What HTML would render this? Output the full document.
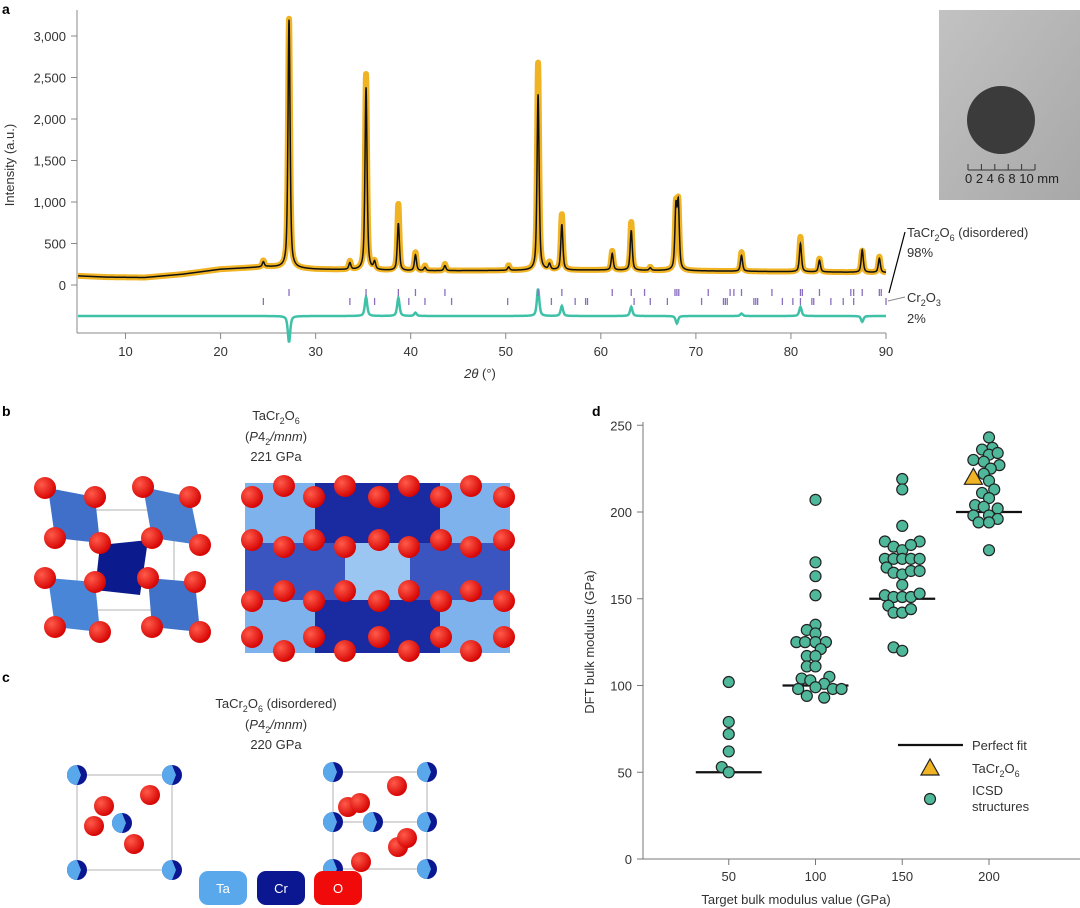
<!DOCTYPE html>
<html><head><meta charset="utf-8"><style>
html,body{margin:0;padding:0;background:#fff;}
svg{display:block;font-family:"Liberation Sans",sans-serif;}
</style></head><body>
<svg id="fig" width="1080" height="908" viewBox="0 0 1080 908" xmlns="http://www.w3.org/2000/svg">
<defs>
<linearGradient id="insetg" x1="0" y1="0" x2="1" y2="1"><stop offset="0" stop-color="#c2c2c2"/><stop offset="1" stop-color="#a8a8a8"/></linearGradient>
<radialGradient id="og" cx="0.35" cy="0.35" r="0.7"><stop offset="0" stop-color="#ff5a4a"/><stop offset="1" stop-color="#d40000"/></radialGradient>
</defs>
<!-- Panel a -->
<g id="panelA">
<text x="2" y="14" font-size="14" font-weight="bold">a</text>
<text transform="translate(14,165) rotate(-90)" font-size="13" text-anchor="middle" fill="#333">Intensity (a.u.)</text>
<text x="480" y="378" font-size="13" text-anchor="middle" fill="#333"><tspan font-style="italic">2θ</tspan> (°)</text>
<g id="aAxes"></g>
<g id="aSeries"></g>
<line x1="905" y1="232" x2="889" y2="293" stroke="#000" stroke-width="1.2"/>
<text x="907" y="237" font-size="13" fill="#333">TaCr<tspan font-size="9" dy="4">2</tspan><tspan dy="-4">O</tspan><tspan font-size="9" dy="4">6</tspan><tspan dy="-4"> (disordered)</tspan></text>
<text x="907" y="257" font-size="13" fill="#333">98%</text>
<line x1="888" y1="301" x2="905" y2="297" stroke="#888" stroke-width="1"/>
<text x="907" y="302" font-size="13" fill="#333">Cr<tspan font-size="9" dy="4">2</tspan><tspan dy="-4">O</tspan><tspan font-size="9" dy="4">3</tspan></text>
<text x="907" y="323" font-size="13" fill="#333">2%</text>
<g>
<rect x="939" y="10" width="141" height="190" fill="url(#insetg)"/>
<circle cx="1001" cy="120" r="34" fill="#3b3b3b"/>
<line x1="968" y1="170" x2="1035" y2="170" stroke="#333" stroke-width="1"/>
<g stroke="#333" stroke-width="1"><line x1="968" y1="164" x2="968" y2="170"/><line x1="981.4" y1="164" x2="981.4" y2="170"/><line x1="994.8" y1="164" x2="994.8" y2="170"/><line x1="1008.2" y1="164" x2="1008.2" y2="170"/><line x1="1021.6" y1="164" x2="1021.6" y2="170"/><line x1="1035" y1="164" x2="1035" y2="170"/></g>
<text x="965" y="183" font-size="13" fill="#222">0 2 4 6 8 10 mm</text>
</g>
</g>

<!-- Panel b -->
<g>
<text x="2" y="416" font-size="14" font-weight="bold">b</text>
<text x="276" y="420" font-size="13" text-anchor="middle" fill="#333">TaCr<tspan font-size="9" dy="4">2</tspan><tspan dy="-4">O</tspan><tspan font-size="9" dy="4">6</tspan></text>
<text x="276" y="441" font-size="13" text-anchor="middle" fill="#333">(<tspan font-style="italic">P</tspan>4<tspan font-size="9" dy="4">2</tspan><tspan dy="-4" font-style="italic">/mnm</tspan>)</text>
<text x="276" y="461" font-size="13" text-anchor="middle" fill="#333">221 GPa</text>
<g id="bLeft">
<rect x="77" y="510" width="97" height="100" fill="none" stroke="#ccc" stroke-width="1.5"/>
<polygon points="48,488 95,497 100,543 55,538" fill="#3f6fc8"/>
<polygon points="143,487 190,497 200,545 152,538" fill="#4a7fd0"/>
<polygon points="48,578 95,582 100,632 55,627" fill="#4a86d8"/>
<polygon points="148,578 195,582 200,632 152,627" fill="#3f72c8"/>
<polygon points="100,545 148,540 140,595 95,590" fill="#0b1a8c"/>
</g>
<g id="bRight">
<rect x="245" y="483" width="265" height="170" fill="#3a55c0"/>
<rect x="245" y="483" width="70" height="60" fill="#7db2ec"/>
<rect x="245" y="600" width="70" height="53" fill="#7db2ec"/>
<rect x="440" y="483" width="70" height="60" fill="#7db2ec"/>
<rect x="440" y="600" width="70" height="53" fill="#7db2ec"/>
<rect x="345" y="543" width="65" height="57" fill="#9cc6f2"/>
<rect x="315" y="483" width="125" height="60" fill="#1a2aa0"/>
<rect x="315" y="600" width="125" height="53" fill="#1a2aa0"/>
</g>
<g id="bAtoms"></g>
</g>

<!-- Panel c -->
<g>
<text x="2" y="682" font-size="14" font-weight="bold">c</text>
<text x="276" y="708" font-size="13" text-anchor="middle" fill="#333">TaCr<tspan font-size="9" dy="4">2</tspan><tspan dy="-4">O</tspan><tspan font-size="9" dy="4">6</tspan><tspan dy="-4"> (disordered)</tspan></text>
<text x="276" y="729" font-size="13" text-anchor="middle" fill="#333">(<tspan font-style="italic">P</tspan>4<tspan font-size="9" dy="4">2</tspan><tspan dy="-4" font-style="italic">/mnm</tspan>)</text>
<text x="276" y="749" font-size="13" text-anchor="middle" fill="#333">220 GPa</text>
<rect x="77" y="775" width="95" height="95" fill="none" stroke="#ccc" stroke-width="1.5"/>
<rect x="333" y="772" width="94" height="97" fill="none" stroke="#ccc" stroke-width="1.5"/>
<line x1="333" y1="822" x2="427" y2="822" stroke="#ccc" stroke-width="1.5"/>
<g id="cAtoms"></g>
<g>
<rect x="199" y="871" width="48" height="34" rx="9" fill="#5aa8ec"/>
<text x="223" y="893" font-size="13" fill="#fff" text-anchor="middle">Ta</text>
<rect x="257" y="871" width="48" height="34" rx="9" fill="#0a1790"/>
<text x="281" y="893" font-size="13" fill="#fff" text-anchor="middle">Cr</text>
<rect x="314" y="871" width="48" height="34" rx="9" fill="#f00a0a"/>
<text x="338" y="893" font-size="13" fill="#fff" text-anchor="middle">O</text>
</g>
</g>

<!-- Panel d -->
<g id="panelD">
<text x="592" y="416" font-size="14" font-weight="bold">d</text>
<text transform="translate(594,642) rotate(-90)" font-size="13" text-anchor="middle" fill="#333">DFT bulk modulus (GPa)</text>
<text x="796" y="904" font-size="13" text-anchor="middle" fill="#333">Target bulk modulus value (GPa)</text>
<g id="dAxes"></g>
<g id="dMarks"></g>
<g>
<line x1="898" y1="745" x2="963" y2="745" stroke="#111" stroke-width="2.2"/>
<text x="972" y="750" font-size="13" fill="#333">Perfect fit</text>
<polygon points="930,759 939,775 921,775" fill="#f0b323" stroke="#222" stroke-width="1.2"/>
<text x="972" y="773" font-size="13" fill="#333">TaCr<tspan font-size="9" dy="4">2</tspan><tspan dy="-4">O</tspan><tspan font-size="9" dy="4">6</tspan></text>
<circle cx="930" cy="799" r="5.5" fill="#4fb89a" stroke="#222" stroke-width="1.2"/>
<text x="972" y="795" font-size="13" fill="#333">ICSD</text>
<text x="972" y="811" font-size="13" fill="#333">structures</text>
</g>
</g>
</svg>
<script>
const NS="http://www.w3.org/2000/svg";
function mk(tag,attrs,parent){const e=document.createElementNS(NS,tag);for(const k in attrs)e.setAttribute(k,attrs[k]);parent.appendChild(e);return e;}

/* ===== Panel a data ===== */
const aXTicks=[10,20,30,40,50,60,70,80,90];
const aYTicks=[0,500,1000,1500,2000,2500,3000];
const aYTickLabels=["0","500","1,000","1,500","2,000","2,500","3,000"];
const bgPos=[5,8,12,16,20,25,30,40,50,60,70,80,90];
const bgVal=[110,95,90,130,190,220,190,170,175,180,170,160,150];
const peakPos=[24.5,27.2,33.6,35.3,36.2,38.7,40.5,41.5,43.6,50.3,53.4,54.6,55.9,61.2,63.2,65.2,67.9,68.15,74.8,81.0,83.0,87.5,89.3];
const peakCalc=[60,2990,80,2200,90,570,190,40,60,40,2120,70,550,200,480,30,720,760,190,340,140,270,170];
const peakObs=[75,3000,100,2360,95,800,220,60,80,60,2500,85,670,230,580,40,740,770,230,420,160,260,190];
const diffPos=[27.2,35.3,38.7,40.5,53.4,55.9,63.2,68.0,74.8,81.0,87.5];
const diffAmp=[-320,230,220,40,330,120,110,-90,30,110,-70];
const tickRow1=[27.2,35.3,38.7,40.5,43.6,53.4,55.9,61.2,63.2,64.6,67.8,68.0,68.2,71.3,73.6,74.0,74.8,78.0,81.0,81.2,83.0,86.3,86.6,87.5,89.3,89.5];
const tickRow2=[24.5,33.6,36.2,39.8,41.5,44.3,50.2,54.8,57.3,58.4,58.6,63.5,65.2,67.0,70.6,72.9,73.1,73.3,76.1,76.3,76.5,79.1,80.2,81.0,82.2,82.4,84.2,85.5,86.6,90.0];

const ax=v=>78+(v-5)*(886-78)/85;
const ay=v=>285-v*0.083;
const aAxes=document.getElementById('aAxes');
mk('line',{x1:77,y1:10,x2:77,y2:333,stroke:'#888','stroke-width':1},aAxes);
mk('line',{x1:77,y1:333,x2:886,y2:333,stroke:'#888','stroke-width':1},aAxes);
aYTicks.forEach((t,i)=>{
  mk('line',{x1:71,y1:ay(t),x2:77,y2:ay(t),stroke:'#888'},aAxes);
  const tx=mk('text',{x:66,y:ay(t)+5,'font-size':13,'text-anchor':'end',fill:'#333'},aAxes);
  tx.textContent=aYTickLabels[i];
  
  
});
aXTicks.forEach(t=>{
  mk('line',{x1:ax(t),y1:333,x2:ax(t),y2:339,stroke:'#888'},aAxes);
  const tx=mk('text',{x:ax(t),y:356,'font-size':13,'text-anchor':'middle',fill:'#333'},aAxes);
  tx.textContent=t;
  
  
});
function bg(x){for(let i=0;i<bgPos.length-1;i++){if(x<=bgPos[i+1]){const f=(x-bgPos[i])/(bgPos[i+1]-bgPos[i]);return bgVal[i]+f*(bgVal[i+1]-bgVal[i]);}}return bgVal[bgVal.length-1];}
function prof(x,c,w){const d=(x-c)/w;return 0.6/(1+d*d)+0.4*Math.exp(-d*d*0.693);}
function curve(heights){let p='';for(let x=5;x<=90;x+=0.02){let v=bg(x);peakPos.forEach((c,i)=>{v+=heights[i]*prof(x,c,0.13);});p+=(p?'L':'M')+ax(x).toFixed(2)+','+ay(v).toFixed(2);}return p;}
const aS=document.getElementById('aSeries');
const obsPath=mk('path',{d:curve(peakObs),fill:'none',stroke:'#f0b323','stroke-width':6,'stroke-linejoin':'round'},aS);


const calcPath=mk('path',{d:curve(peakCalc),fill:'none',stroke:'#111','stroke-width':1.5},aS);


let dp='';for(let x=5;x<=90;x+=0.05){let v=0;diffPos.forEach((c,i)=>{v+=diffAmp[i]*prof(x,c,0.15);});dp+=(dp?'L':'M')+ax(x).toFixed(2)+','+(316-v*0.083).toFixed(2);}
const diffPath=mk('path',{d:dp,fill:'none',stroke:'#3fc1a8','stroke-width':2.5},aS);


tickRow1.forEach(t=>{const l=mk('line',{x1:ax(t),y1:289,x2:ax(t),y2:296,stroke:'#8a6fc0','stroke-width':1.3},aS);
  
  });
tickRow2.forEach(t=>{const l=mk('line',{x1:ax(t),y1:298,x2:ax(t),y2:305,stroke:'#8a6fc0','stroke-width':1.3},aS);
  
  });

/* ===== Panel b atoms ===== */
const bA=document.getElementById('bAtoms');
const bLeftO=[[45,488],[95,497],[143,487],[190,497],[55,538],[100,543],[152,538],[200,545],[45,578],[95,582],[148,578],[195,582],[55,627],[100,632],[152,627],[200,632]];
bLeftO.forEach(p=>{const c=mk('circle',{cx:p[0],cy:p[1],r:11,fill:'url(#og)'},bA);
  
  });
const colA=[252,314,379,441,504], colB=[284,345,409,471];
[[497,colA],[486,colB],[540,colA],[547,colB],[601,colA],[591,colB],[637,colA],[651,colB]].forEach(r=>{
  r[1].forEach(x=>{const c=mk('circle',{cx:x,cy:r[0],r:11,fill:'url(#og)'},bA);
    
    });
});

/* ===== Panel c atoms ===== */
const cA=document.getElementById('cAtoms');
function metal(x,y){const g=mk('g',{},cA);
  
  
  mk('circle',{cx:x,cy:y,r:10,fill:'#0a1790'},g);mk('path',{d:`M${x},${y-10} A10,10 0 0 0 ${x},${y+10} L${x+4},${y} Z`,fill:'#5aa8ec'},g);}
[[77,775],[172,775],[77,870],[172,870],[122,823],[333,772],[427,772],[333,822],[427,822],[333,869],[427,869],[373,822]].forEach(p=>metal(p[0],p[1]));
[[104,806],[150,795],[134,844],[94,826],[397,786],[348,807],[360,803],[398,847],[407,838],[361,862]].forEach(p=>{const c=mk('circle',{cx:p[0],cy:p[1],r:10,fill:'url(#og)'},cA);
  
  });

/* ===== Panel d data ===== */
const dCategories=[50,100,150,200];
const dYTicks=[0,50,100,150,200,250];
const icsdTarget=[50,50,50,50,50,50,
 100,100,100,100,100,100,100,100,100,100,100,100,100,100,100,100,100,100,100,100,100,100,100,100,100,100,
 150,150,150,150,150,150,150,150,150,150,150,150,150,150,150,150,150,150,150,150,150,150,150,150,150,150,150,150,150,150,
 200,200,200,200,200,200,200,200,200,200,200,200,200,200,200,200,200,200,200,200,200,200,200];
const icsdJitter=[0,0,0,0,-4,0,
 0,0,0,0,0,-5,0,-11,-6,0,6,3,-5,0,-5,0,-8,-3,8,5,0,-10,10,15,-5,5,
 0,0,0,-10,10,-5,0,5,-10,-5,0,5,10,-9,-5,0,5,10,0,-10,-5,0,5,10,-8,-5,0,5,-5,0];
const icsdJitter200=[0,2,-4,0,5,-9,-3,6,1,-3,0,3,-4,0,-8,-3,5,-9,0,5,-6,0,0];
const icsdValue=[102,79,72,62,53,50,
 207,171,163,152,135,132,130,125,125,125,125,121,117,117,111,111,104,103,105,101,99,98,98,98,94,93,
 219,213,192,183,183,180,178,181,173,173,173,173,173,168,165,164,166,166,158,152,151,151,151,153,146,142,142,144,122,120,
 243,237,236,233,234,230,229,227,225,222,218,213,211,208,204,203,202,198,198,196,194,194,178];
const tacrX=[191];
const tacrY=[220];

const dx=v=>642+v*1.735;
const dy=v=>859-v*1.735;
const dAx=document.getElementById('dAxes');
mk('line',{x1:643,y1:422,x2:643,y2:859,stroke:'#777','stroke-width':1},dAx);
mk('line',{x1:643,y1:859,x2:1080,y2:859,stroke:'#777','stroke-width':1},dAx);
dYTicks.forEach(t=>{mk('line',{x1:637,y1:dy(t),x2:643,y2:dy(t),stroke:'#777'},dAx);
  const tx=mk('text',{x:632,y:dy(t)+5,'font-size':13,'text-anchor':'end',fill:'#333'},dAx);tx.textContent=t;
  
  });
dCategories.forEach(t=>{mk('line',{x1:dx(t),y1:859,x2:dx(t),y2:865,stroke:'#777'},dAx);
  const tx=mk('text',{x:dx(t),y:881,'font-size':13,'text-anchor':'middle',fill:'#333'},dAx);tx.textContent=t;
  
  });
const dM=document.getElementById('dMarks');
dCategories.forEach(t=>{const l=mk('line',{x1:dx(t-19),y1:dy(t),x2:dx(t+19),y2:dy(t),stroke:'#111','stroke-width':2.2},dM);
  
  });
const allJ=icsdJitter.concat(icsdJitter200);
icsdValue.forEach((v,i)=>{const c=mk('circle',{cx:dx(icsdTarget[i]+(allJ[i]||0)),cy:dy(v),r:5.5,fill:'#4fb89a',stroke:'#222','stroke-width':1.2},dM);
  
  });
tacrX.forEach((x,i)=>{const X=dx(x),Y=dy(tacrY[i]);
  const p=mk('polygon',{points:`${X},${Y-9} ${X+9},${Y+7} ${X-9},${Y+7}`,fill:'#f0b323',stroke:'#222','stroke-width':1.2},dM);
  
  });
</script>
</body></html>
